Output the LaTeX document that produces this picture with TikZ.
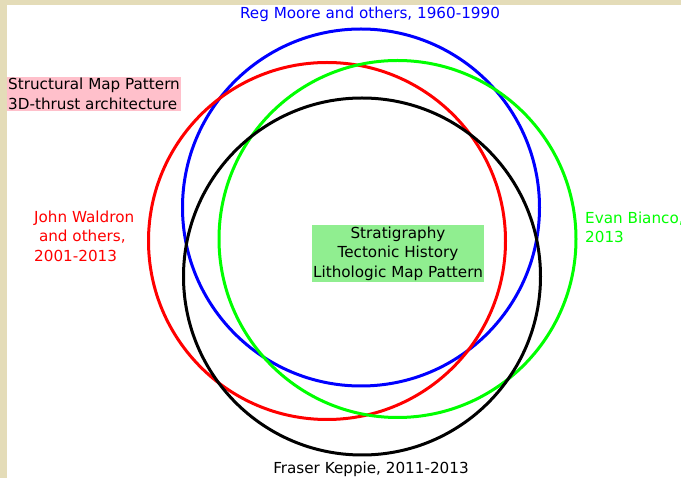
\documentclass[tikz,border=0pt]{standalone}
\usepackage{fontspec}
\setmainfont{DejaVu Sans}
\begin{document}
\begin{tikzpicture}[x=1pt,y=-1pt,
  ring/.style={circle,draw,line width=3pt,minimum size=357pt,inner sep=0pt},
  lbl/.style={inner sep=1pt,font=\fontsize{15.2}{19.5}\selectfont}]
\definecolor{mapbg}{HTML}{E4DCB8}
\definecolor{pinkbg}{HTML}{FFC0CB}
\definecolor{lgreen}{HTML}{90EE90}
\definecolor{vgreen}{HTML}{00FF00}
\fill[mapbg] (0,0) rectangle (681,478);
\fill[white] (7,5) rectangle (681,478);
\useasboundingbox (0,0) rectangle (681,478);
\node[ring,draw=blue] (reg) at (361,207.5) {};
\node[ring,draw=red] (john) at (327,241) {};
\node[ring,draw=vgreen] (evan) at (397.5,239) {};
\node[ring,draw=black] (fraser) at (362,276.5) {};
\node[lbl,text=blue] (regl) at (370,14) {Reg Moore and others, 1960-1990};
\node[lbl,fill=pinkbg,align=left,anchor=west,inner sep=1pt] (struct) at (7,94) {Structural Map Pattern\\3D-thrust architecture};
\node[lbl,text=red,align=left,anchor=west] (johnl) at (33,236) {John Waldron\\\ and others,\\2001-2013};
\node[lbl,text=vgreen,align=left,anchor=west] (evanl) at (584,227.5) {Evan Bianco,\\2013};
\node[lbl,fill=lgreen,align=center,inner sep=1.5pt] (core) at (398,253.5) {Stratigraphy\\Tectonic History\\Lithologic Map Pattern};
\node[lbl,text=black] (fraserl) at (371,469) {Fraser Keppie, 2011-2013};
\end{tikzpicture}
\end{document}
